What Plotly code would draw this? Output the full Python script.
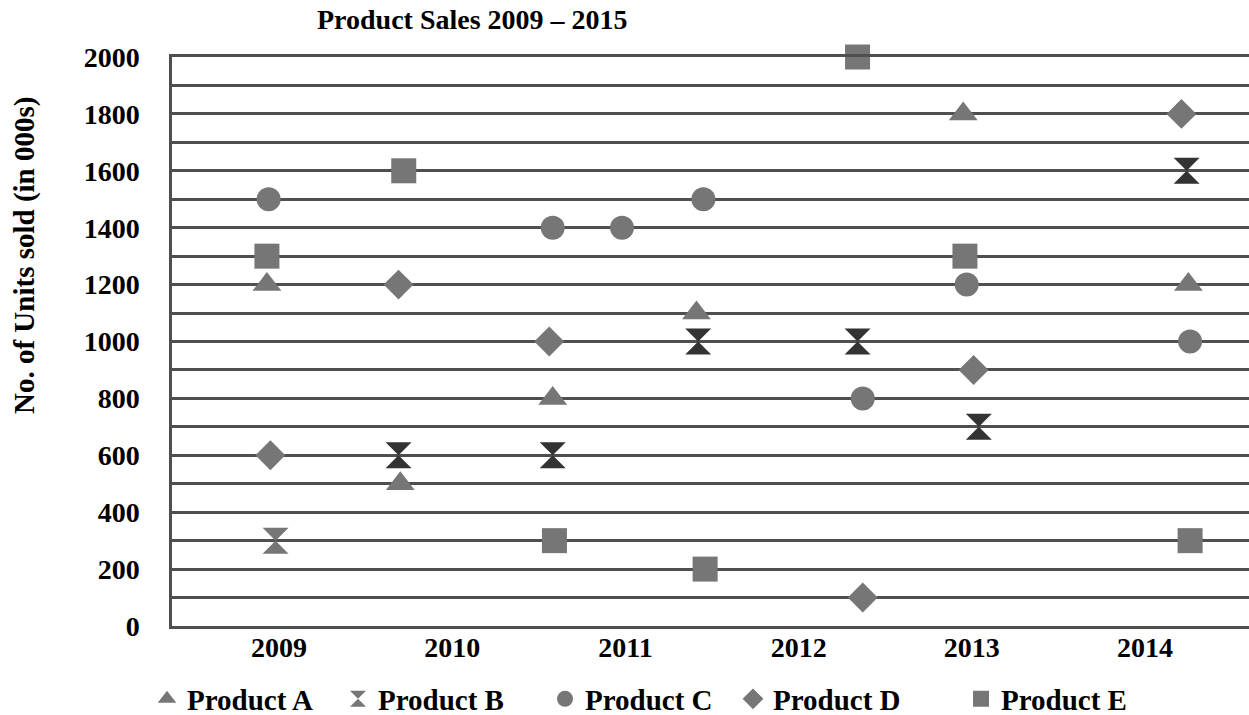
import plotly.graph_objects as go

# ---- data ----
years = [2009, 2010, 2011, 2012, 2013, 2014]
year_labels = ["2009", "2010", "2011", "2012", "2013", "2014"]

a_x = [2008.93, 2009.70, 2010.58, 2011.41, 2012.95, 2014.25]
a_y = [1200, 500, 800, 1100, 1800, 1200]

b_x = [2008.98, 2009.69, 2010.58, 2011.42, 2012.34, 2013.04, 2014.24]
b_y = [300, 600, 600, 1000, 1000, 700, 1600]

c_x = [2008.94, 2010.58, 2010.98, 2011.45, 2012.37, 2012.97, 2014.26]
c_y = [1500, 1400, 1400, 1500, 800, 1200, 1000]

d_x = [2008.95, 2009.69, 2010.56, 2012.37, 2013.01, 2014.21]
d_y = [600, 1200, 1000, 100, 900, 1800]

e_x = [2008.93, 2009.72, 2010.59, 2011.46, 2012.34, 2012.96, 2014.26]
e_y = [1300, 1600, 300, 200, 2000, 1300, 300]

y_ticks = list(range(0, 2001, 200))

# ---- layout geometry (pixels) ----
W, H = 1249, 715
L, R, T, B = 172, 0, 57, 89
PW = W - L - R
PH = H - T - B


def px_to_paper_x(px):
    return (px - L) / PW


def px_to_paper_y(py):
    return (H - B - py) / PH


FONT = "Liberation Serif"
GRAY = "#767676"
DARK = "#333333"
GRID = "#4f4f4f"

series = [
    ("Product A", a_x, a_y, "triangle-up", 25, GRAY, 167),
    ("Product B", b_x, b_y, "hourglass", 26, [GRAY] + [DARK] * (len(b_y) - 1), 358),
    ("Product C", c_x, c_y, "circle", 24, GRAY, 565),
    ("Product D", d_x, d_y, "diamond", 23, GRAY, 753),
    ("Product E", e_x, e_y, "square", 25, GRAY, 981),
]

fig = go.Figure()
legend_layouts = {}
for i, (name, xs, ys, sym, size, col, lx) in enumerate(series):
    lname = "legend" if i == 0 else f"legend{i + 1}"
    fig.add_trace(go.Scatter(
        x=xs, y=ys, mode="markers", name=f"<b>{name}</b>",
        marker=dict(symbol=sym, size=size, color=col, line=dict(width=0)),
        cliponaxis=False, legend=lname,
    ))
    legend_layouts[lname] = dict(
        x=px_to_paper_x(lx - 20), xanchor="left",
        y=px_to_paper_y(699), yanchor="middle",
        orientation="h", bgcolor="rgba(0,0,0,0)",
        font=dict(family=FONT, size=29, color="black"),
        itemsizing="trace",
    )

fig.update_layout(
    width=W, height=H,
    margin=dict(l=L, r=R, t=T, b=B, pad=0, autoexpand=False),
    paper_bgcolor="white", plot_bgcolor="white",
    font=dict(family=FONT, color="black"),
    showlegend=True,
    **legend_layouts,
)

fig.update_xaxes(
    range=[2008.382, 2014.6],
    tickvals=years, ticktext=[f"<b>{t}</b>" for t in year_labels],
    tickfont=dict(family=FONT, size=28, color="black"),
    showgrid=False, zeroline=False,
    showline=True, linecolor=GRID, linewidth=2.5, mirror=True,
    ticks="", ticklabelstandoff=-5, automargin=False,
)

fig.update_yaxes(
    range=[0, 2000],
    tickvals=y_ticks, ticktext=[f"<b>{v}</b>" for v in y_ticks],
    tickfont=dict(family=FONT, size=28, color="black"),
    showgrid=True, gridcolor=GRID, gridwidth=2.5,
    minor=dict(dtick=100, showgrid=True, gridcolor=GRID, gridwidth=2.5),
    zeroline=False,
    showline=True, linecolor=GRID, linewidth=2.5,
    ticks="", ticklabelstandoff=24, automargin=False,
)

fig.add_annotation(
    text="<b>Product Sales 2009 \u2013 2015</b>",
    xref="paper", yref="paper",
    x=px_to_paper_x(472), y=px_to_paper_y(19),
    xanchor="center", yanchor="middle", showarrow=False,
    font=dict(family=FONT, size=28, color="black"),
)

fig.add_annotation(
    text="<b>No. of Units sold (in 000s)</b>",
    xref="paper", yref="paper",
    x=px_to_paper_x(24), y=px_to_paper_y(256),
    xanchor="center", yanchor="middle", showarrow=False, textangle=-90,
    font=dict(family=FONT, size=29, color="black"),
)

fig.write_html(
    "out.html",
    config={"displayModeBar": False},
    post_script="document.body.style.margin='0';document.body.style.overflow='hidden';",
)
